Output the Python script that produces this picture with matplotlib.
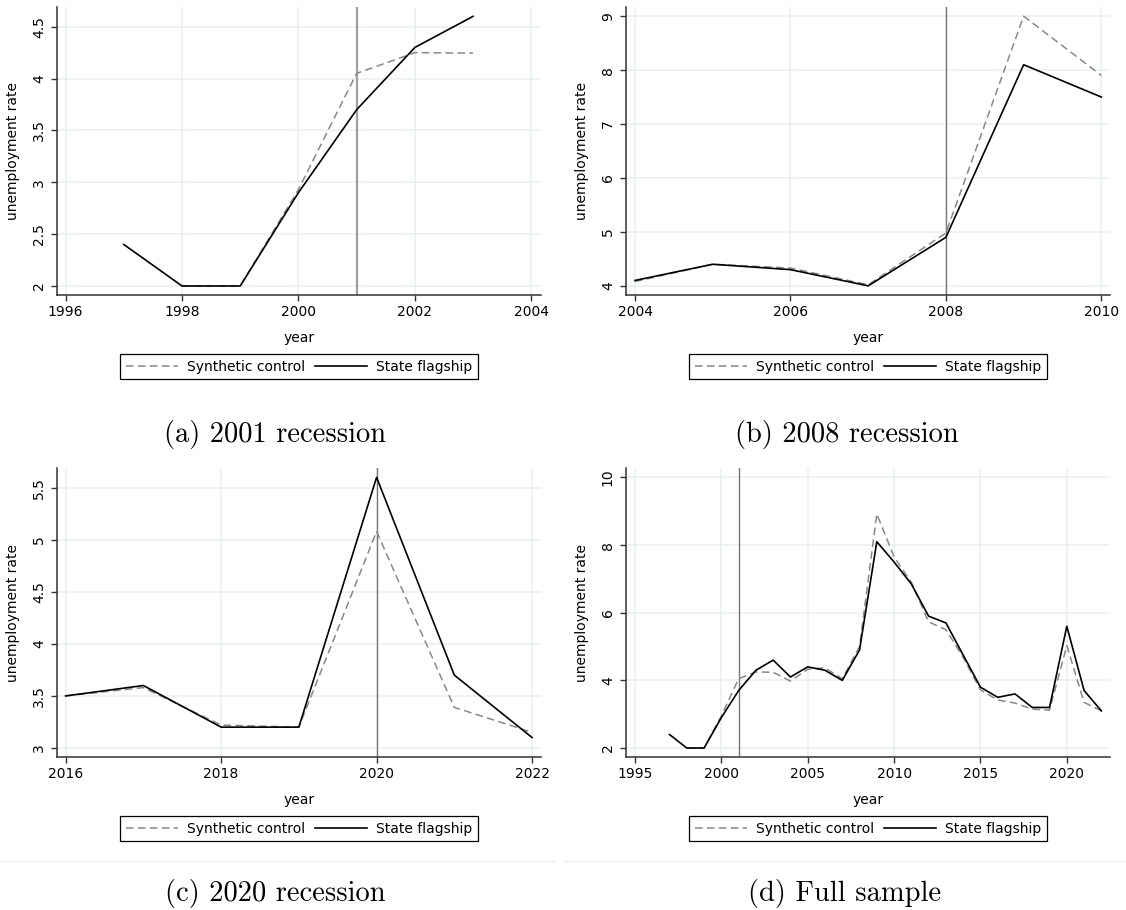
import matplotlib
matplotlib.use("Agg")
import matplotlib.pyplot as plt
from matplotlib.lines import Line2D
from matplotlib.ticker import FuncFormatter

# panel (a) 2001 recession
years_a = [1997, 1998, 1999, 2000, 2001, 2002, 2003]
flag_a = [2.4, 2.0, 2.0, 2.9, 3.7, 4.3, 4.6]
syn_years_a = [1998, 1999, 2000, 2001, 2002, 2003]
syn_a = [2.0, 2.0, 2.93, 4.05, 4.25, 4.245]

# panel (b) 2008 recession
years_b = [2004, 2005, 2006, 2007, 2008, 2009, 2010]
flag_b = [4.1, 4.4, 4.3, 4.0, 4.9, 8.1, 7.5]
syn_b = [4.08, 4.4, 4.33, 4.02, 4.98, 9.0, 7.9]

# panel (c) 2020 recession
years_c = [2016, 2017, 2018, 2019, 2020, 2021, 2022]
flag_c = [3.5, 3.6, 3.2, 3.2, 5.6, 3.7, 3.1]
syn_c = [3.5, 3.58, 3.22, 3.2, 5.08, 3.39, 3.15]

# panel (d) full sample
years_d = list(range(1997, 2023))
flag_d = [2.4, 2.0, 2.0, 2.9, 3.7, 4.3, 4.6, 4.1, 4.4, 4.3, 4.0, 4.9, 8.1,
          7.5, 6.85, 5.9, 5.7, 4.75, 3.8, 3.5, 3.6, 3.2, 3.2, 5.6, 3.7, 3.1]
syn_years_d = list(range(1998, 2023))
syn_d = [2.0, 2.0, 2.95, 4.05, 4.25, 4.24, 3.98, 4.33, 4.37, 4.05, 5.0, 8.92,
         7.65, 6.9, 5.73, 5.5, 4.68, 3.72, 3.42, 3.33, 3.15, 3.12, 5.03, 3.35, 3.1]

captions = ["(a) 2001 recession", "(b) 2008 recession",
            "(c) 2020 recession", "(d) Full sample"]

W, H = 1126, 910
fig = plt.figure(figsize=(W / 100, H / 100), dpi=100)

grid_col = "#e8f0f2"
spine_col = "#333333"


def fmt(v, pos):
    return ("%g" % v)


def panel(box, xs, fl, sxs, sy, xlim, ylim, xticks, yticks, vline, vcol, vlw):
    l, r, t, b = box
    ax = fig.add_axes([l / W, 1 - b / H, (r - l) / W, (b - t) / H])
    ax.set_xlim(*xlim)
    ax.set_ylim(*ylim)
    ax.set_xticks(xticks)
    ax.set_yticks(yticks)
    ax.yaxis.set_major_formatter(FuncFormatter(fmt))
    ax.grid(True, color=grid_col, lw=1.1, zorder=0)
    ax.set_axisbelow(True)
    for s in ["top", "right"]:
        ax.spines[s].set_visible(False)
    for s in ["left", "bottom"]:
        ax.spines[s].set_color(spine_col)
        ax.spines[s].set_linewidth(1.1)
    ax.tick_params(axis="both", labelsize=10, length=4, color=spine_col, width=1)
    ax.tick_params(axis="x", pad=3)
    ax.tick_params(axis="y", pad=4)
    for lab in ax.get_yticklabels():
        lab.set_rotation(90)
        lab.set_va("center")
    ax.axvline(vline, color=vcol, lw=vlw, zorder=1.5)
    ax.plot(sxs, sy, color="#888888", lw=1.1, linestyle=(0, (5, 2.8)),
            label="Synthetic control", zorder=2)
    ax.plot(xs, fl, color="black", lw=1.2, label="State flagship", zorder=3)
    ax.set_xlabel("year", fontsize=10, labelpad=9)
    ax.set_ylabel("unemployment rate", fontsize=10)
    ax.yaxis.set_label_coords(-37 / (r - l), 0.5)
    cx = (l + r) / 2 / W
    leg_top = b + 59
    ax.legend(loc="upper center", bbox_to_anchor=(cx, 1 - leg_top / H),
              bbox_transform=fig.transFigure, ncol=2, fontsize=10,
              frameon=True, fancybox=False, edgecolor="black",
              framealpha=1, handlelength=3.75, handletextpad=0.65,
              columnspacing=0.7, borderpad=0.4, borderaxespad=0)
    ax.get_legend().get_frame().set_linewidth(0.9)
    return ax


panel((57, 541, 7, 295), years_a, flag_a, syn_years_a, syn_a,
      (1995.852, 2004.167), (1.913, 4.69), [1996, 1998, 2000, 2002, 2004],
      [2, 2.5, 3, 3.5, 4, 4.5], 2001, "#a0a0a0", 1.6)
panel((626, 1110, 7, 295), years_b, flag_b, years_b, syn_b,
      (2003.884, 2010.111), (3.83, 9.17), [2004, 2006, 2008, 2010],
      [4, 5, 6, 7, 8, 9], 2008, "#777777", 1.0)
panel((57, 541, 468, 757), years_c, flag_c, years_c, syn_c,
      (2015.889, 2022.115), (2.913, 5.69), [2016, 2018, 2020, 2022],
      [3, 3.5, 4, 4.5, 5, 5.5], 2020, "#777777", 1.0)
panel((626, 1110, 468, 757), years_d, flag_d, syn_years_d, syn_d,
      (1994.48, 2022.5), (1.735, 10.28), [1995, 2000, 2005, 2010, 2015, 2020],
      [2, 4, 6, 8, 10], 2001, "#777777", 1.0)

# faint separators under the bottom panels
fig.add_artist(Line2D([0, 555 / W], [1 - 861 / H] * 2, color="#eeeeee", lw=1))
fig.add_artist(Line2D([565 / W, 1], [1 - 861 / H] * 2, color="#eeeeee", lw=1))

cap_pos = [(275, 434), (847, 434), (275, 893), (845, 893)]
for (cx, cy), txt in zip(cap_pos, captions):
    fig.text(cx / W, 1 - cy / H, txt, fontfamily="cmr10", fontsize=20.5,
             ha="center", va="center")

fig.savefig("out.png", dpi=100)
